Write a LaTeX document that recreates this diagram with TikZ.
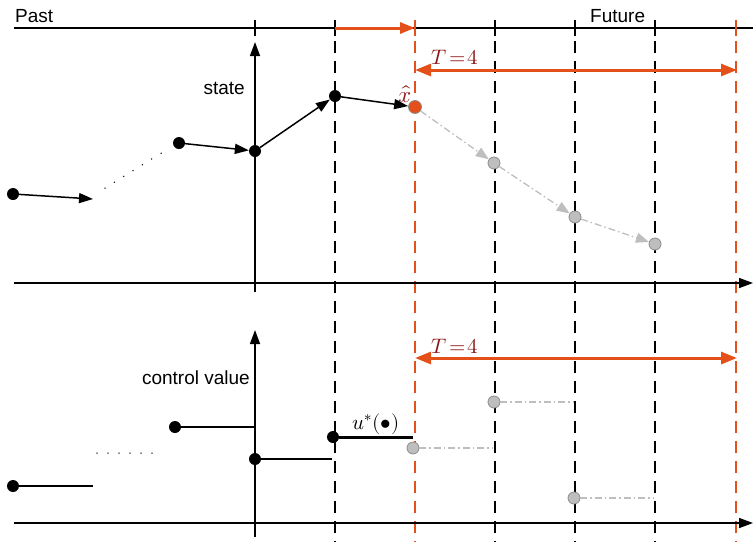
\documentclass[tikz,border=0pt]{standalone}
\usepackage{fontspec}
\setmainfont{Liberation Sans}
\usepackage{unicode-math}
\setmathfont{Latin Modern Math}
\usetikzlibrary{arrows.meta}
\definecolor{orng}{RGB}{228,80,26}
\definecolor{dred}{RGB}{140,22,22}
\definecolor{lgrey}{RGB}{190,190,190}
\definecolor{mgrey}{RGB}{140,140,140}
\tikzset{
  ln/.style={line width=1.5pt, black},
  arr/.style={ln, -{Triangle[length=14pt,width=10pt]}},
  bdot/.style={circle, fill=black, inner sep=0pt, minimum size=12pt},
  gdot/.style={circle, fill=lgrey, draw=mgrey, line width=0.8pt, inner sep=0pt, minimum size=12pt},
  odot/.style={circle, fill=orng, draw=mgrey, line width=0.8pt, inner sep=0pt, minimum size=13pt},
  vdash/.style={line width=1.4pt, black, dash pattern=on 12pt off 8pt},
  odash/.style={line width=2.8pt, orng, dash pattern=on 12pt off 8pt},
  garr/.style={line width=1.3pt, lgrey, dash pattern=on 7pt off 3pt on 1.5pt off 3pt, -{Triangle[length=13pt,width=10pt]}},
  gline/.style={line width=1.3pt, lgrey, dash pattern=on 7pt off 3pt on 1.5pt off 3pt},
  oarr/.style={line width=3pt, orng, {Triangle[length=16pt,width=12pt]}-{Triangle[length=16pt,width=12pt]}},
  lbl/.style={font=\fontsize{19}{21}\selectfont, inner sep=0pt},
  tlbl/.style={font=\fontsize{21}{23}\selectfont, text=dred, inner sep=0pt},
  dotsline/.style={line width=1.5pt, line cap=round, dash pattern=on 0pt off 11pt}
}
\begin{document}
\begin{tikzpicture}[x=1pt,y=-1pt]
\useasboundingbox (0,0) rectangle (753,542);
% top time line
\draw[ln] (14,28) -- (753,28);
\node[lbl, anchor=west] (past) at (15,16) {Past};
\node[lbl, anchor=west] (future) at (590,16) {Future};
\foreach \x in {255,335,495,575,655} \draw[ln] (\x,20) -- (\x,36);
\foreach \x in {415,736} \draw[line width=2.8pt, orng] (\x,20) -- (\x,36);
\coordinate (tA) at (335,28);
\coordinate (tB) at (415,28);
\draw[line width=3pt, orng, -{Triangle[length=15pt,width=11pt]}] (tA) -- (tB);
% dashed verticals
\foreach \x in {335,495,575,655} \draw[vdash] (\x,41) -- (\x,542);
\foreach \x in {415,736} \draw[odash] (\x,41) -- (\x,542);
% upper axes
\coordinate (ua0) at (255,292);
\coordinate (ua1) at (255,42);
\draw[arr] (ua0) -- (ua1);
\coordinate (uh0) at (14,283);
\coordinate (uh1) at (753,283);
\draw[arr] (uh0) -- (uh1);
\node[lbl, anchor=east] (state) at (245,88) {state};
% lower axes
\coordinate (la0) at (255,537);
\coordinate (la1) at (255,330);
\draw[arr] (la0) -- (la1);
\coordinate (lh0) at (14,523);
\coordinate (lh1) at (753,523);
\draw[arr] (lh0) -- (lh1);
\node[lbl, anchor=east] (cv) at (250,378) {control value};
% horizon arrows
\coordinate (h1a) at (415,70);
\coordinate (h1b) at (737,70);
\draw[oarr] (h1a) -- (h1b);
\node[tlbl] (T1) at (455,57) {$T\!=\!4$};
\coordinate (h2a) at (415,358);
\coordinate (h2b) at (737,358);
\draw[oarr] (h2a) -- (h2b);
\node[tlbl] (T2) at (455,346) {$T\!=\!4$};
% state trajectory
\node[bdot] (s0) at (13,194) {};
\coordinate (s0e) at (93,199);
\draw[arr] (s0) -- (s0e);
\coordinate (dA) at (105,188);
\coordinate (dB) at (163,152);
\draw[dotsline] (dA) -- (dB);
\node[bdot] (s1) at (179,143) {};
\node[bdot] (s2) at (255,151) {};
\node[bdot] (s3) at (335,96) {};
\node[odot] (s4) at (415,107) {};
\node[tlbl, font=\fontsize{23}{25}\selectfont] (xh) at (405,94) {$\hat{x}$};
\node[gdot] (s5) at (494,163) {};
\node[gdot] (s6) at (575,217) {};
\node[gdot] (s7) at (655,244) {};
\draw[arr] (s1) -- (s2);
\draw[arr] (s2) -- (s3);
\draw[arr] (s3) -- (s4);
\draw[garr] (s4) -- (s5);
\draw[garr] (s5) -- (s6);
\draw[garr] (s6) -- (s7);
% control trajectory
\node[bdot] (c0) at (13,486) {};
\coordinate (c0e) at (93,486);
\draw[ln] (c0) -- (c0e);
\coordinate (cdA) at (97,453);
\coordinate (cdB) at (153,453);
\draw[dotsline] (cdA) -- (cdB);
\node[bdot] (c1) at (175,427) {};
\coordinate (c1e) at (255,427);
\draw[ln] (c1) -- (c1e);
\node[bdot] (c2) at (255,459) {};
\coordinate (c2e) at (332,459);
\draw[ln] (c2) -- (c2e);
\node[bdot] (c3) at (333,437) {};
\coordinate (c3e) at (413,437);
\draw[line width=3pt] (c3) -- (c3e);
\node[font=\fontsize{21}{23}\selectfont, inner sep=0pt] (ul) at (376,424) {$u^{*}(\bullet)$};
\node[gdot] (c4) at (413,448) {};
\coordinate (c4e) at (492,448);
\draw[gline] (c4) -- (c4e);
\node[gdot] (c5) at (494,402) {};
\coordinate (c5e) at (573,402);
\draw[gline] (c5) -- (c5e);
\node[gdot] (c6) at (574,498) {};
\coordinate (c6e) at (653,498);
\draw[gline] (c6) -- (c6e);
\end{tikzpicture}
\end{document}
